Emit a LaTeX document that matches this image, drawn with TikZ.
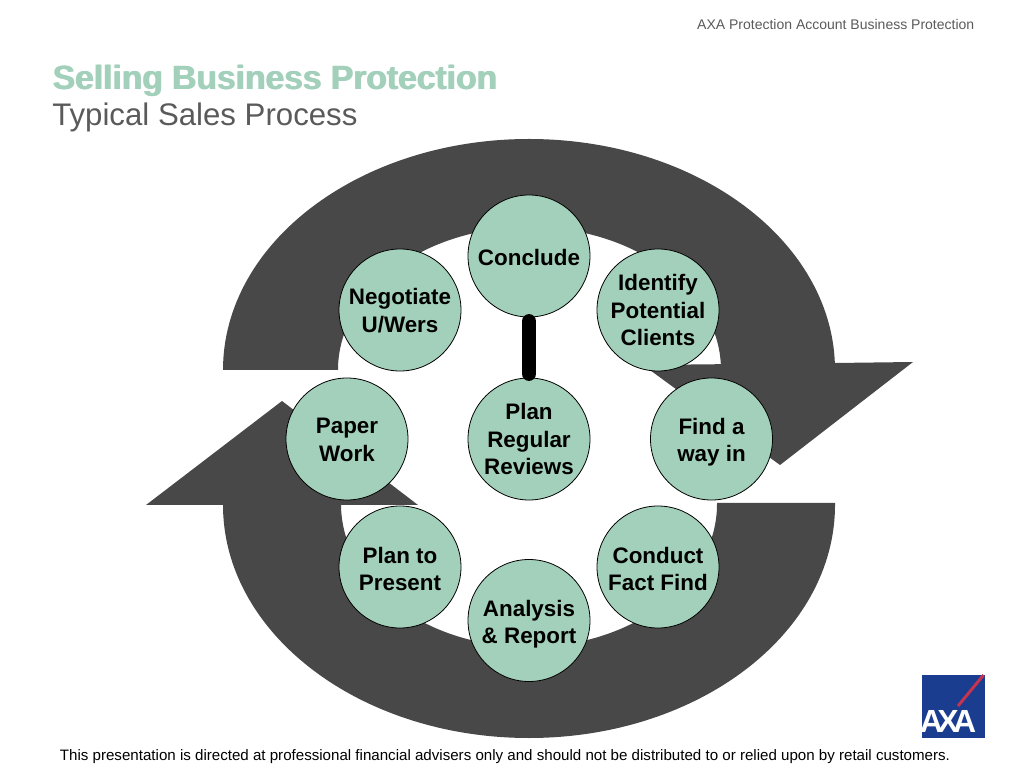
\documentclass[tikz,border=0pt]{standalone}
\usepackage{fontspec}
\setmainfont{Liberation Sans}
\definecolor{mint}{HTML}{A3D0BA}
\definecolor{arrowgrey}{HTML}{484848}
\definecolor{subgrey}{HTML}{5A5A5A}
\definecolor{axablue}{HTML}{1A3D8F}
\definecolor{axared}{HTML}{C8344F}
\newcommand{\nudgedown}[1]{\rule{0pt}{\dimexpr 12.2pt+#1pt*3/2\relax}}
\tikzset{
  x=0.75pt,y=0.75pt,
  stage/.style={circle,draw=black,line width=0.6pt,fill=mint,minimum size=91.5pt,inner sep=0pt,align=center,font=\fontsize{16.8}{20.4}\selectfont\bfseries},
  sweep/.style={fill=arrowgrey,draw=none},
  link/.style={line width=11pt,line cap=round,black,shorten >=3pt,shorten <=3pt},
  plain/.style={inner sep=0pt,anchor=west}
}
\begin{document}
\begin{tikzpicture}
\useasboundingbox (0,0) rectangle (1024,768);
% upper sweep
\fill[sweep] (223,398) arc[start angle=180,end angle=0,x radius=306,y radius=231]
  -- (721,398) arc[start angle=0,end angle=180,x radius=191.5,y radius=143] -- cycle;
\fill[sweep] (643,403) -- (835,405) -- (913,406) -- (780,303) -- cycle;
% lower sweep
\fill[sweep] (223,263) arc[start angle=180,end angle=360,x radius=306,y radius=233]
  -- (835,265) -- (717,265) -- (717,264) arc[start angle=360,end angle=180,x radius=188,y radius=143] -- cycle;
\fill[sweep] (146,263) -- (282,367) -- (418,263) -- cycle;
% stages
\node[stage] (conclude) at (529,512) {\nudgedown{1}Conclude};
\node[stage] (identify) at (658,458) {Identify\\Potential\\Clients};
\node[stage] (findway) at (711.5,329) {\nudgedown{3}Find a\\way in};
\node[stage] (factfind) at (658,201) {\nudgedown{2}Conduct\\Fact Find};
\node[stage] (analysis) at (529,147.5) {\nudgedown{3.5}Analysis\\\& Report};
\node[stage] (present) at (400,201) {\nudgedown{2}Plan to\\Present};
\node[stage] (paper) at (347,329) {\nudgedown{0.5}Paper\\Work};
\node[stage] (negotiate) at (400,458) {\nudgedown{0.5}Negotiate\\U/Wers};
\node[stage] (reviews) at (529,329) {Plan\\Regular\\Reviews};
\draw[link] (conclude) -- (reviews);
% texts
\node[plain,font=\fontsize{25.2}{30}\selectfont\bfseries,text=mint] (titleshade) at (53.2,686.8) {Selling Business Protection};
\node[plain,font=\fontsize{25.2}{30}\selectfont\bfseries,text=mint] (title) at (52,687.6) {Selling Business Protection};
\node[plain,font=\fontsize{23.4}{28}\selectfont,text=subgrey] (subtitle) at (52,651) {Typical Sales Process};
\node[inner sep=0pt,anchor=east,font=\fontsize{10.5}{12}\selectfont,text=subgrey] (header) at (974.5,743) {AXA Protection Account Business Protection};
\node[inner sep=0pt,font=\fontsize{11.33}{14}\selectfont] (footer) at (505,11.5) {This presentation is directed at professional financial advisers only and should not be distributed to or relied upon by retail customers.};
% logo
\node[fill=axablue,minimum size=47.25pt,inner sep=0pt] (logo) at (953.5,61.5) {};
\draw[axared,line width=2.2pt] (958,62) -- (983.5,93);
\node[inner sep=0pt,text=white,font=\fontsize{24}{24}\selectfont\bfseries] (logotext) at (948,47) {A\kern-4.2pt X\kern-4.2pt A};
\end{tikzpicture}
\end{document}
